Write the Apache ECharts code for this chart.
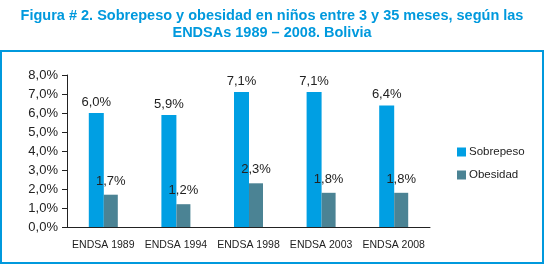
<!DOCTYPE html>
<html>
<head>
<meta charset="utf-8">
<script src="https://cdn.jsdelivr.net/npm/echarts@6/dist/echarts.min.js"></script>
<style>
html, body { margin: 0; padding: 0; background: #fff; }
#chart { width: 544px; height: 265px; }
</style>
</head>
<body>
<div id="chart"></div>
<script>
// datos de la figura
var categorias = ['ENDSA 1989', 'ENDSA 1994', 'ENDSA 1998', 'ENDSA 2003', 'ENDSA 2008'];
var sobrepeso = [6.0, 5.9, 7.1, 7.1, 6.4];
var obesidad = [1.7, 1.2, 2.3, 1.8, 1.8];
var ejeY = [0, 1, 2, 3, 4, 5, 6, 7, 8];

var azul = '#009fe3';
var gris = '#4b8394';

function pct(v) {
    return v.toFixed(1).replace('.', ',') + '%';
}

var chart = echarts.init(document.getElementById('chart'));

var option = {
    backgroundColor: '#fff',
    animation: false,
    title: {
        text: 'Figura # 2. Sobrepeso y obesidad en niños entre 3 y 35 meses, según las\nENDSAs 1989 – 2008. Bolivia',
        left: 'center',
        top: 3,
        textStyle: {
            fontFamily: 'Liberation Sans, Arial',
            fontSize: 14.5,
            fontWeight: 'bold',
            color: '#0099dd',
            lineHeight: 16.5
        }
    },
    graphic: [{
        type: 'rect',
        shape: { x: 1, y: 51, width: 542, height: 212 },
        style: { fill: null, stroke: '#0099dd', lineWidth: 2 },
        z: -1
    }],
    legend: {
        orient: 'vertical',
        left: 457,
        top: 146,
        padding: 0,
        itemWidth: 9,
        itemHeight: 9,
        itemGap: 11,
        icon: 'rect',
        textStyle: {
            fontFamily: 'Liberation Sans, Arial',
            fontSize: 11.5,
            color: '#222',
            padding: [0, 0, 0, -2]
        },
        data: ['Sobrepeso', 'Obesidad']
    },
    grid: {
        left: 67,
        right: 114,
        top: 75,
        bottom: 38
    },
    xAxis: {
        type: 'category',
        data: categorias,
        axisLine: { lineStyle: { color: '#222', width: 1 } },
        axisTick: { show: false },
        axisLabel: {
            interval: 0,
            fontFamily: 'Liberation Sans, Arial',
            fontSize: 10.5,
            color: '#222',
            margin: 13
        }
    },
    yAxis: {
        type: 'value',
        min: ejeY[0],
        max: ejeY[ejeY.length - 1],
        interval: 1,
        splitLine: { show: false },
        axisLine: { show: true, lineStyle: { color: '#222', width: 1 } },
        axisTick: { show: true, length: 5, lineStyle: { color: '#222' } },
        axisLabel: {
            fontFamily: 'Liberation Sans, Arial',
            fontSize: 13,
            color: '#222',
            margin: 9,
            formatter: pct
        }
    },
    series: [{
        name: 'Sobrepeso',
        type: 'bar',
        data: sobrepeso,
        barWidth: 15,
        barGap: '0%',
        itemStyle: { color: azul },
        label: {
            show: true,
            position: 'top',
            distance: 4,
            fontFamily: 'Liberation Sans, Arial',
            fontSize: 13,
            color: '#222',
            formatter: function (p) { return pct(p.value); }
        }
    }, {
        name: 'Obesidad',
        type: 'bar',
        data: obesidad,
        barWidth: 14,
        itemStyle: { color: gris },
        label: {
            show: true,
            position: 'top',
            distance: 7,
            fontFamily: 'Liberation Sans, Arial',
            fontSize: 13,
            color: '#222',
            formatter: function (p) { return pct(p.value); }
        }
    }]
};

chart.setOption(option);
</script>
</body>
</html>
